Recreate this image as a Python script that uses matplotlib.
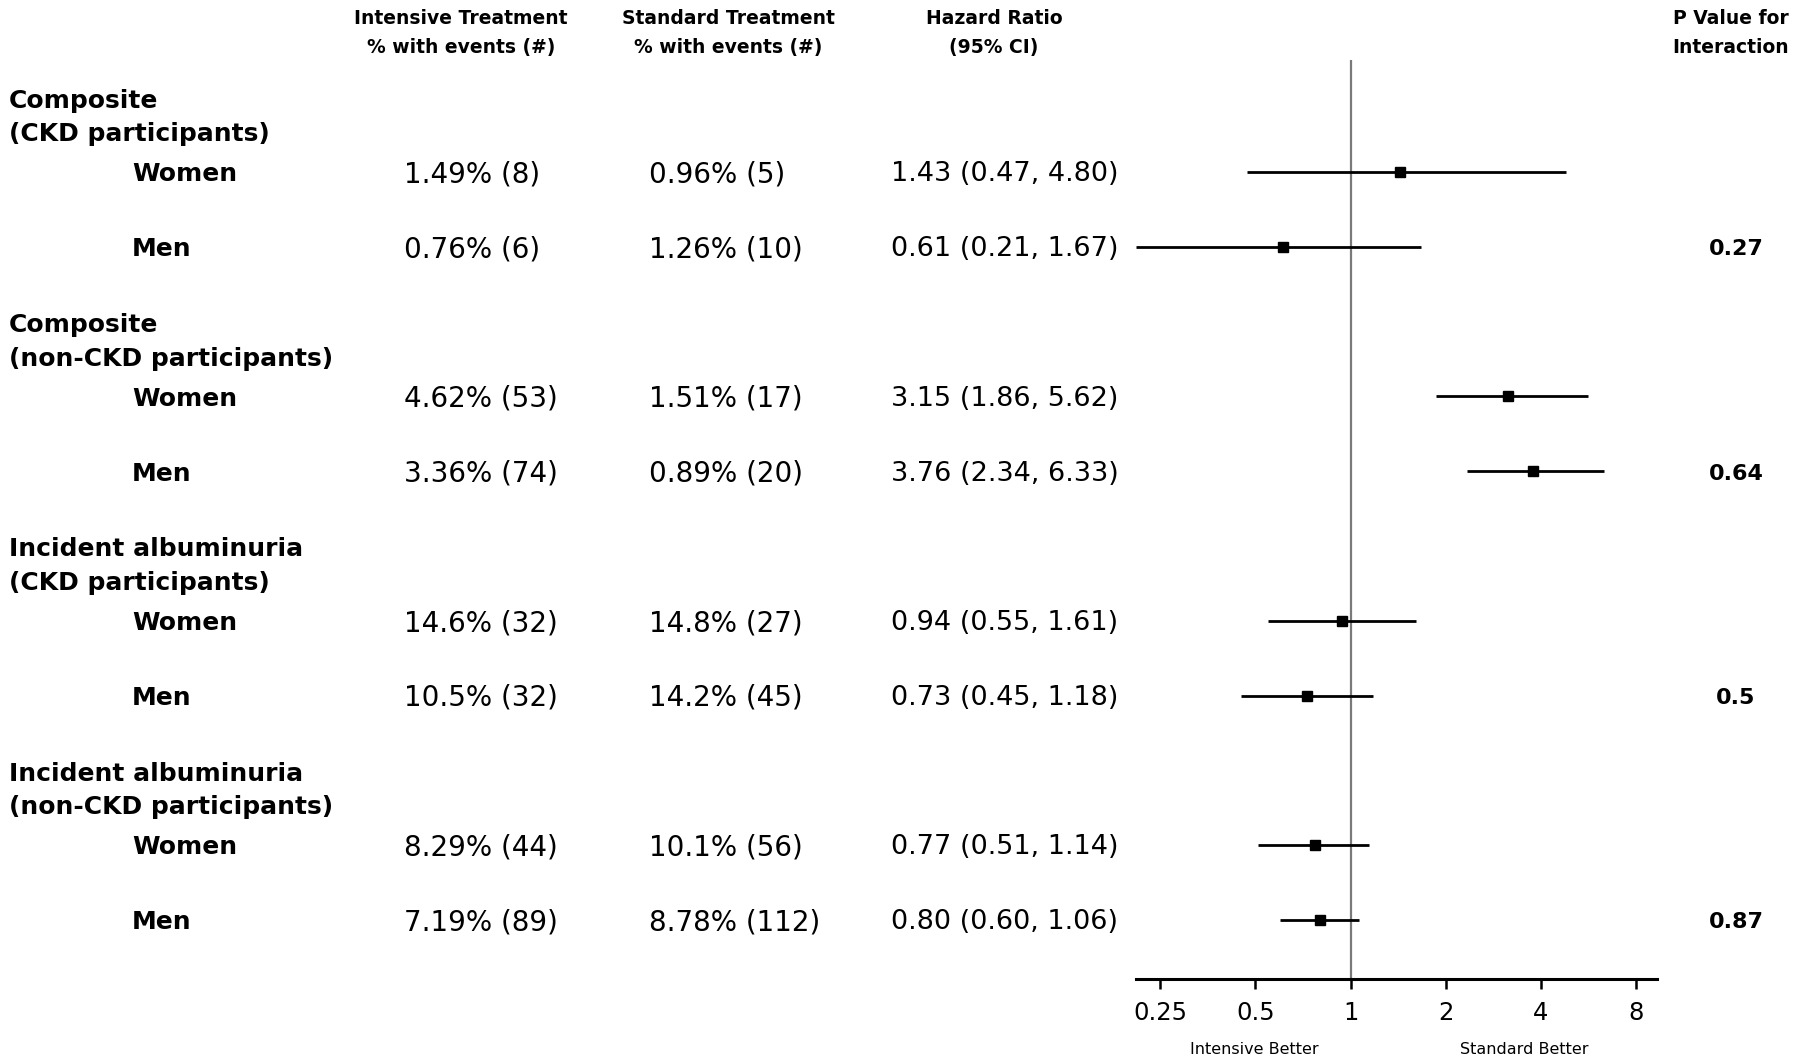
import matplotlib
matplotlib.use("Agg")
import matplotlib.pyplot as plt
from matplotlib.transforms import blended_transform_factory

# data
groups = ["Composite\n(CKD participants)",
          "Composite\n(non-CKD participants)",
          "Incident albuminuria\n(CKD participants)",
          "Incident albuminuria\n(non-CKD participants)"]
sexes = ["Women", "Men"]
intensive = ["1.49% (8)", "0.76% (6)", "4.62% (53)", "3.36% (74)",
             "14.6% (32)", "10.5% (32)", "8.29% (44)", "7.19% (89)"]
standard = ["0.96% (5)", "1.26% (10)", "1.51% (17)", "0.89% (20)",
            "14.8% (27)", "14.2% (45)", "10.1% (56)", "8.78% (112)"]
hr = [1.43, 0.61, 3.15, 3.76, 0.94, 0.73, 0.77, 0.80]
lo = [0.47, 0.21, 1.86, 2.34, 0.55, 0.45, 0.51, 0.60]
hi = [4.80, 1.67, 5.62, 6.33, 1.61, 1.18, 1.14, 1.06]
p_inter = ["0.27", "0.64", "0.5", "0.87"]
ticks = [0.25, 0.5, 1, 2, 4, 8]
tick_labels = ["0.25", "0.5", "1", "2", "4", "8"]

W, H = 1800, 1064
fig = plt.figure(figsize=(W / 100, H / 100), dpi=100)

# forest axes (pixel layout)
ax = fig.add_axes([1136 / W, 1 - 979 / H, 521 / W, (979 - 60) / H])
ax.set_xscale("log", base=2)
ax.set_xlim(0.21, 9.3)
ax.set_ylim(10.79, -1.5)

ax.axvline(1, color="#7a7a7a", lw=1.6, zorder=1)

rows = []
for g in range(len(groups)):
    for s in range(len(sexes)):
        rows.append(g * 3 + s)

for i, y in enumerate(rows):
    ax.plot([lo[i], hi[i]], [y, y], color="black", lw=2.0, solid_capstyle="butt", zorder=2)
    ax.plot(hr[i], y, marker="s", ms=7.5, color="black", zorder=3)

for side in ["top", "right", "left"]:
    ax.spines[side].set_visible(False)
ax.spines["bottom"].set_linewidth(2.2)
ax.set_yticks([])
ax.set_xticks(ticks)
ax.set_xticklabels(tick_labels)
ax.minorticks_off()
ax.tick_params(axis="x", direction="out", length=7, width=1.8, pad=9, labelsize=17.5)

tr = blended_transform_factory(fig.transFigure, ax.transData)
dy = 0.03  # small nudge so text sits on the line like the original

for g, name in enumerate(groups):
    ax.text(9 / W, g * 3 - 0.73, name, transform=tr, ha="left", va="center",
            fontsize=18, fontweight="bold", linespacing=1.5)
    for s, sex in enumerate(sexes):
        i = g * 2 + s
        y = rows[i] + dy
        ax.text(132 / W, y, sex, transform=tr, ha="left", va="center",
                fontsize=18, fontweight="bold")
        ax.text(404 / W, y, intensive[i], transform=tr, ha="left", va="center", fontsize=20)
        ax.text(649 / W, y, standard[i], transform=tr, ha="left", va="center", fontsize=20)
        ax.text(891 / W, y, "%.2f (%.2f, %.2f)" % (hr[i], lo[i], hi[i]), transform=tr,
                ha="left", va="center", fontsize=19.5)
    ax.text(1736 / W, rows[g * 2 + 1] + dy, p_inter[g], transform=tr, ha="center", va="center",
            fontsize=16, fontweight="bold")

# column headers
hdr = dict(ha="center", va="center", fontsize=13.5, fontweight="bold", linespacing=1.7)
fig.text(461 / W, 1 - 33 / H, "Intensive Treatment\n% with events (#)", **hdr)
fig.text(728 / W, 1 - 33 / H, "Standard Treatment\n% with events (#)", **hdr)
fig.text(994 / W, 1 - 33 / H, "Hazard Ratio\n(95% CI)", **hdr)
fig.text(1731 / W, 1 - 33 / H, "P Value for\nInteraction", **hdr)

fig.text(1254 / W, 1 - 1049 / H, "Intensive Better", ha="center", va="center", fontsize=11.5)
fig.text(1524 / W, 1 - 1049 / H, "Standard Better", ha="center", va="center", fontsize=11.5)

fig.savefig("out.png", dpi=100)
